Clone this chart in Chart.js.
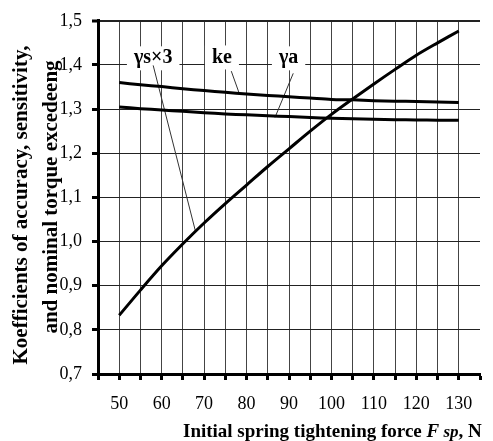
<!DOCTYPE html>
<html>
<head>
<meta charset="utf-8">
<script src="https://cdn.jsdelivr.net/npm/chart.js@4/dist/chart.umd.min.js"></script>
<style>
  html, body { margin: 0; padding: 0; background: #fff; }
</style>
</head>
<body>
<canvas id="chart" width="493" height="441"></canvas>
<script>
// force values, N
const forces = [50, 55, 60, 65, 70, 75, 80, 85, 90, 95, 100, 105, 110, 115, 120, 125, 130];
// gamma_s x 3 (rising curve)
const gammaS3 = [0.833, 0.890, 0.945, 0.995, 1.042, 1.086, 1.128, 1.170, 1.210, 1.250, 1.288, 1.323, 1.357, 1.390, 1.422, 1.450, 1.477];
// k_e (upper flat curve)
const kE = [1.360, 1.355, 1.351, 1.346, 1.342, 1.338, 1.334, 1.331, 1.328, 1.325, 1.322, 1.321, 1.319, 1.318, 1.317, 1.316, 1.315];
// gamma_a (lower flat curve)
const gammaA = [1.305, 1.301, 1.298, 1.295, 1.292, 1.289, 1.287, 1.285, 1.283, 1.281, 1.279, 1.278, 1.277, 1.276, 1.2755, 1.275, 1.2745];
const xLabels = [50, 60, 70, 80, 90, 100, 110, 120, 130];

// curve callouts (data coords)
const callouts = [
  { text: "γs×3", at: [58.0, 1.415], from: [58.0, 1.399], to: [68.0, 1.022] },
  { text: "ke",   at: [74.2, 1.417], from: [76.4, 1.386], to: [78.3, 1.335] },
  { text: "γa",   at: [89.9, 1.415], from: [91.0, 1.381], to: [86.7, 1.281] }
];

const SERIF = "'Liberation Serif', 'Times New Roman', serif";

const pts = ys => forces.map((f, i) => ({ x: f, y: ys[i] }));
const line = ys => ({
  data: pts(ys),
  borderColor: "#000",
  borderWidth: 3,
  pointRadius: 0,
  tension: 0.3,
  fill: false
});

const annot = {
  id: "annot",
  beforeDatasetsDraw(chart) {
    const { ctx, scales: { x, y } } = chart;
    ctx.save();
    ctx.font = "bold 20px " + SERIF;
    callouts.forEach(c => {
      const px = x.getPixelForValue(c.at[0]), py = y.getPixelForValue(c.at[1]);
      const w = ctx.measureText(c.text).width + 14;
      ctx.fillStyle = "#fff";
      ctx.fillRect(px - w / 2, py - 12, w, 24);
    });
    ctx.strokeStyle = "#333";
    ctx.lineWidth = 1;
    callouts.forEach(c => {
      ctx.beginPath();
      ctx.moveTo(x.getPixelForValue(c.from[0]), y.getPixelForValue(c.from[1]));
      ctx.lineTo(x.getPixelForValue(c.to[0]), y.getPixelForValue(c.to[1]));
      ctx.stroke();
    });
    ctx.fillStyle = "#000";
    ctx.textAlign = "center";
    ctx.textBaseline = "middle";
    callouts.forEach(c => {
      ctx.fillText(c.text, x.getPixelForValue(c.at[0]), y.getPixelForValue(c.at[1]));
    });
    ctx.restore();
  },
  afterDraw(chart) {
    const ctx = chart.ctx;
    ctx.save();
    ctx.fillStyle = "#000";
    // y title, two rotated lines
    ctx.font = "bold 21px " + SERIF;
    ctx.textAlign = "center";
    ctx.textBaseline = "alphabetic";
    [["Koefficients of accuracy, sensitivity,", 27, 205], ["and nominal torque excedeeng", 57, 197]].forEach(([t, bx, cy]) => {
      ctx.save();
      ctx.translate(bx, cy);
      ctx.rotate(-Math.PI / 2);
      ctx.fillText(t, 0, 0);
      ctx.restore();
    });
    // x title with italic F sp
    ctx.textAlign = "left";
    const parts = [
      ["Initial spring tightening force ", "bold 19px "],
      ["F", "italic bold 19px "],
      [" sp", "italic bold 17px "],
      [", N", "bold 19px "]
    ];
    let tx = 183;
    parts.forEach(([t, f]) => {
      ctx.font = f + SERIF;
      ctx.fillText(t, tx, 437);
      tx += ctx.measureText(t).width;
    });
    ctx.restore();
  }
};

new Chart(document.getElementById("chart"), {
  type: "line",
  data: { datasets: [line(gammaS3), line(kE), line(gammaA)] },
  options: {
    responsive: false,
    animation: false,
    devicePixelRatio: 1,
    layout: { padding: { top: 17, right: 0, left: 0, bottom: 0 } },
    plugins: { legend: { display: false }, tooltip: { enabled: false } },
    scales: {
      x: {
        type: "linear",
        min: 45,
        max: 135,
        afterFit: s => { s.height = 67; },
        ticks: {
          stepSize: 5,
          autoSkip: false,
          maxRotation: 0,
          padding: 13,
          color: "#000",
          font: { family: SERIF, size: 18 },
          callback: v => xLabels.includes(v) ? String(v) : ""
        },
        grid: {
          color: c => (c.tick && c.tick.value === 135) ? "rgba(0,0,0,0)" : "#444",
          lineWidth: 1,
          tickLength: 6,
          tickWidth: 3,
          tickColor: "#000"
        },
        border: { color: "#000", width: 3 }
      },
      y: {
        min: 0.7,
        max: 1.5,
        afterFit: s => { s.width = 98; },
        ticks: {
          stepSize: 0.1,
          padding: 10,
          color: "#000",
          font: { family: SERIF, size: 18 },
          callback: v => v.toFixed(1).replace(".", ",")
        },
        grid: {
          color: "#222",
          lineWidth: c => (c.tick && Math.abs(c.tick.value - 1.5) < 1e-6) ? 2 : 1,
          tickLength: 6,
          tickWidth: 3,
          tickColor: "#000"
        },
        border: { color: "#000", width: 3 }
      }
    }
  },
  plugins: [annot]
});
</script>
</body>
</html>
